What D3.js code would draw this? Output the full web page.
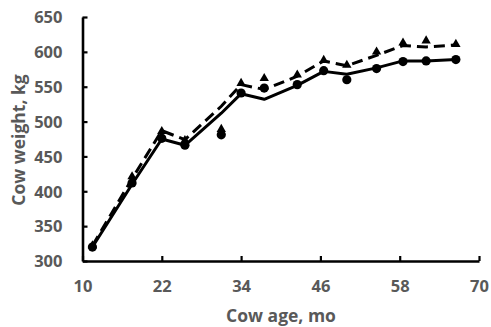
<!DOCTYPE html>
<html><head><meta charset="utf-8">
<script src="https://cdn.jsdelivr.net/npm/d3@7"></script>
<style>
html,body{margin:0;padding:0;background:#fff;}
svg{display:block;}
text{font-family:"Open Sans",sans-serif;}
</style></head>
<body>
<script>
const ages = [11.5, 17.5, 22, 25.5, 31, 34, 37.5, 42.5, 46.5, 50, 54.5, 58.5, 62, 66.5];
const circleObs = [320, 412, 476, 466, 481, 541, 548, 553, 573, 560, 576, 586, 587, 589];
const triangleObs = [322, 421, 486, 473, 489, 555, 562, 567, 588, 581, 600, 613, 616, 611];
const solidLine = [320, 410, 475, 466, 512, 540, 532, 552, 572, 568, 577, 587, 587, 589];
const dashedLine = [322, 418, 487, 474, 522, 553, 546, 565, 587, 580, 595, 609, 607, 610];
const xTicks = [10, 22, 34, 46, 58, 70];
const yTicks = [300, 350, 400, 450, 500, 550, 600, 650];

const W = 491, H = 327;
const svg = d3.select("body").append("svg").attr("width", W).attr("height", H);
const x = d3.scaleLinear().domain([10, 70]).range([82.5, 479]);
const y = d3.scaleLinear().domain([300, 650]).range([261, 17]);

const gray = "#595959";
const xAxis = svg.append("g").attr("transform", `translate(0,${y(300)})`)
  .call(d3.axisBottom(x).tickValues(xTicks).tickSize(-5).tickSizeOuter(0).tickPadding(19));
const yAxis = svg.append("g").attr("transform", `translate(${x(10)},0)`)
  .call(d3.axisLeft(y).tickValues(yTicks).tickSize(-5).tickSizeOuter(0).tickPadding(20));
[xAxis, yAxis].forEach(a => {
  a.select(".domain").attr("stroke", "#000").attr("stroke-width", 2.6);
  a.selectAll(".tick line").attr("stroke", "#000").attr("stroke-width", 2.2);
  a.selectAll(".tick text").attr("fill", gray).attr("font-size", 16.5).attr("font-weight", 700)
    .attr("font-family", "'Open Sans', sans-serif");
});
yAxis.selectAll(".tick text").attr("dy", "0.35em");

const pts = ages.map((a, i) => i);
const lineGen = vals => d3.line().x(d => x(ages[d])).y(d => y(vals[d]))(pts);

svg.append("path").attr("d", lineGen(solidLine)).attr("fill", "none")
  .attr("stroke", "#000").attr("stroke-width", 3).attr("stroke-linejoin", "round");
svg.append("path").attr("d", lineGen(dashedLine)).attr("fill", "none")
  .attr("stroke", "#000").attr("stroke-width", 3).attr("stroke-dasharray", "11,6");

svg.append("g").selectAll("circle").data(pts).join("circle")
  .attr("cx", d => x(ages[d])).attr("cy", d => y(circleObs[d])).attr("r", 4.6).attr("fill", "#000");
const tri = d3.symbol().type(d3.symbolTriangle).size(38);
svg.append("g").selectAll("path").data(pts).join("path")
  .attr("d", tri).attr("transform", d => `translate(${x(ages[d])},${y(triangleObs[d])})`).attr("fill", "#000");

svg.append("text").attr("x", 281).attr("y", 322).attr("text-anchor", "middle")
  .attr("fill", gray).attr("font-size", 17.5).attr("font-weight", 700).text("Cow age, mo");
svg.append("text").attr("transform", "translate(25,140) rotate(-90)").attr("text-anchor", "middle")
  .attr("fill", gray).attr("font-size", 17.5).attr("font-weight", 700).text("Cow weight, kg");
</script>
</body></html>
